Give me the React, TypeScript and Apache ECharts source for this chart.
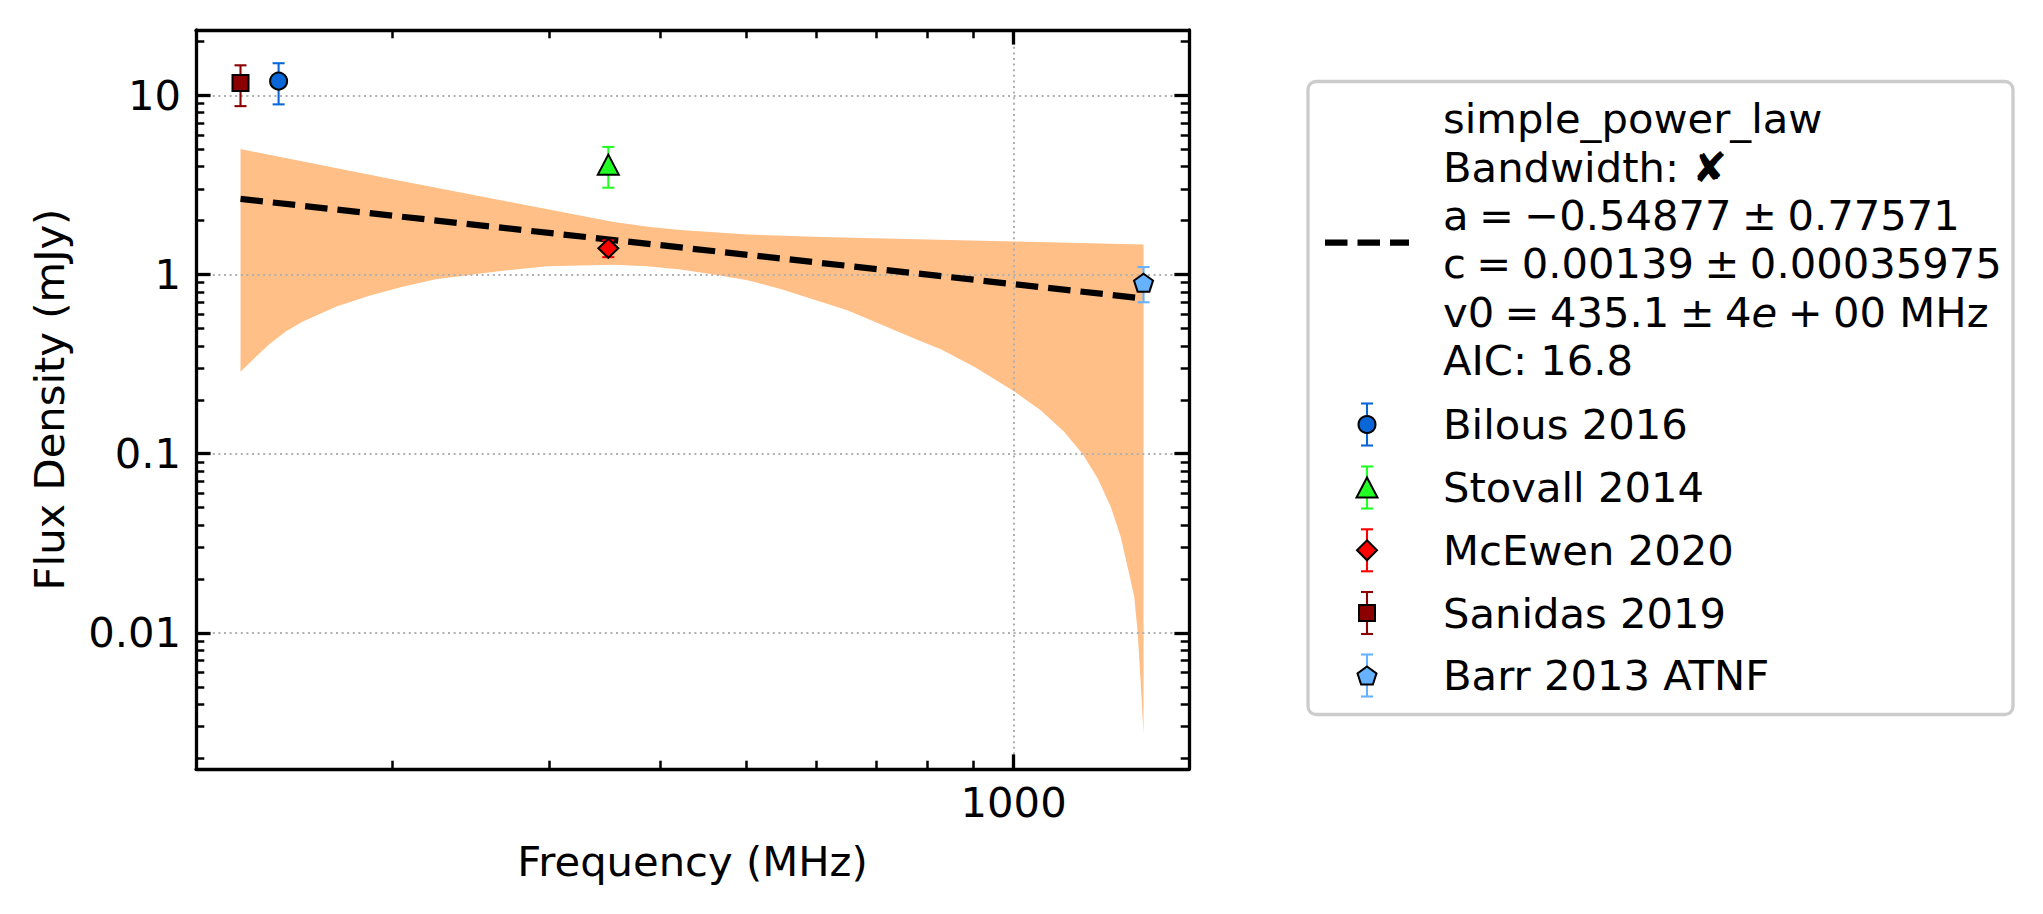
import React, { useEffect, useRef } from "react";
import * as echarts from "echarts";

// ---------- data ----------
const sourceNames = ["Bilous 2016", "Stovall 2014", "McEwen 2020", "Sanidas 2019", "Barr 2013 ATNF"];
const sourceFreq = [149, 350, 350, 135, 1400];
const sourceFlux = [12.0, 4.1, 1.4, 11.7, 0.9];
const sourceErr = [3.1, 1.05, 0.15, 3.0, 0.2];
const sourceColors = ["#0b67d8", "#22ff22", "#ff0000", "#8b0000", "#66b2ff"];

const fitFreq = [135, 1400];
const fitFlux = [2.64, 0.735];

const bandUpperFreq = [135, 200, 275, 355, 390, 422, 502, 607, 1000, 1400];
const bandUpper = [5.01, 3.4, 2.51, 1.96, 1.84, 1.77, 1.67, 1.62, 1.53, 1.47];
const bandLowerFreq = [135, 140.5, 145.4, 151.8, 158.5, 172.8, 188.4, 205.4, 223.9, 244.1, 262, 299, 355, 387, 422, 460, 502, 547, 650, 773, 828, 903, 1000, 1072.5, 1139, 1195, 1243, 1286, 1319.5, 1345, 1367, 1379, 1390, 1400];
const bandLower = [0.287, 0.348, 0.408, 0.48, 0.545, 0.661, 0.762, 0.855, 0.94, 0.994, 1.04, 1.113, 1.132, 1.113, 1.067, 1.0, 0.929, 0.83, 0.632, 0.439, 0.3825, 0.306, 0.224, 0.175, 0.133, 0.1, 0.073, 0.0506, 0.0344, 0.0227, 0.0158, 0.01, 0.0052, 0.00273];

const xTickValues = [1000];
const yTickValues = [0.01, 0.1, 1, 10];
const xMinorTickValues = [200, 300, 400, 500, 600, 700, 800, 900];
const yMinorTickValues = [
  0.002, 0.003, 0.004, 0.005, 0.006, 0.007, 0.008, 0.009,
  0.02, 0.03, 0.04, 0.05, 0.06, 0.07, 0.08, 0.09,
  0.2, 0.3, 0.4, 0.5, 0.6, 0.7, 0.8, 0.9,
  2, 3, 4, 5, 6, 7, 8, 9, 20,
];

const SP = "\u2005";
const legendFitLines = [
  "simple_power_law",
  "Bandwidth: \u2718",
  `a${SP}=${SP}\u22120.54877${SP}\u00b1${SP}0.77571`,
  `c${SP}=${SP}0.00139${SP}\u00b1${SP}0.00035975`,
  `{n|v0${SP}=${SP}435.1${SP}\u00b1${SP}4}{i|e}{n|${SP}+${SP}00 MHz}`,
  "AIC: 16.8",
];

// ---------- styling ----------
const FONT = "DejaVu Sans";
const FS = 41.7;
const X_MIN = 120.3;
const X_MAX = 1575;
const Y_MIN = 0.00174;
const Y_MAX = 23.14;
const GRID = { left: 196, top: 30, width: 993, height: 739 };
const PENTAGON = "path://M0,-10L9.511,-3.09L5.878,8.09L-5.878,8.09L-9.511,-3.09Z";
const sourceSymbols = ["circle", "triangle", "diamond", "rect", PENTAGON];
const sourceSizes: any[] = [[17, 17], [21, 20], [20, 19], [16, 16], [19, 18]];

function majorAxis(dim: "x" | "y", position: string, labels: boolean) {
  const isX = dim === "x";
  const ticks = isX ? xTickValues : yTickValues;
  return {
    type: "log",
    logBase: 10,
    min: isX ? X_MIN : Y_MIN,
    max: isX ? X_MAX : Y_MAX,
    position,
    z: 3,
    axisLine: { show: true, onZero: false, lineStyle: { color: "#000", width: 3.3 } },
    axisTick: { show: true, inside: true, length: 14.6, customValues: ticks, lineStyle: { color: "#000", width: 3.3 } },
    axisLabel: {
      show: labels,
      customValues: ticks,
      formatter: (v: number) => String(v),
      margin: isX ? 12 : 15,
      fontSize: FS,
      fontFamily: FONT,
      color: "#000",
    },
    splitLine: {
      show: labels,
      lineStyle: { color: "#b0b0b0", width: 2, type: [2, 3.6] },
    },
    minorTick: { show: false },
    minorSplitLine: { show: false },
    name: labels ? (isX ? "Frequency (MHz)" : "Flux Density (mJy)") : "",
    nameLocation: "middle",
    nameGap: isX ? 71 : 126,
    nameTextStyle: { fontSize: FS, fontFamily: FONT, color: "#000" },
  };
}

function minorAxis(dim: "x" | "y", position: string) {
  const isX = dim === "x";
  return {
    type: "log",
    logBase: 10,
    min: isX ? X_MIN : Y_MIN,
    max: isX ? X_MAX : Y_MAX,
    position,
    z: 3,
    axisLine: { show: false },
    axisTick: {
      show: true,
      inside: true,
      length: 8.3,
      customValues: isX ? xMinorTickValues : yMinorTickValues,
      lineStyle: { color: "#000", width: 2.5 },
    },
    axisLabel: { show: false },
    splitLine: { show: false },
  };
}

function legendGraphics() {
  const els: any[] = [];
  els.push({
    type: "rect",
    shape: { x: 1308, y: 81.5, width: 705, height: 633, r: 8 },
    style: { fill: "#ffffff", stroke: "#cccccc", lineWidth: 3.3 },
    z: 10,
  });
  const textX = 1443;
  const handleX = 1367;
  const fitYs = [118.8, 167.2, 215.5, 263.8, 312.1, 360.4];
  legendFitLines.forEach((t, i) => {
    els.push({
      type: "text",
      x: textX,
      y: fitYs[i],
      z: 11,
      style: {
        text: t,
        fill: "#000",
        fontSize: FS,
        fontFamily: FONT,
        align: "left",
        verticalAlign: "middle",
        rich: {
          n: { fontSize: FS, fontFamily: FONT, fill: "#000" },
          i: { fontSize: FS, fontFamily: FONT, fontStyle: "italic", fill: "#000" },
        },
      },
    });
  });
  els.push({
    type: "line",
    z: 11,
    shape: { x1: 1325, y1: 242.7, x2: 1409, y2: 242.7 },
    style: { stroke: "#000", lineWidth: 6.25, lineDash: [22.5, 10] },
  });
  const rowYs = [424.5, 487.5, 550.3, 613.0, 675.5];
  sourceNames.forEach((name, i) => {
    const cy = rowYs[i];
    const c = sourceColors[i];
    const bar = { stroke: c, lineWidth: 2.1 };
    els.push({ type: "line", z: 11, shape: { x1: handleX, y1: cy - 21, x2: handleX, y2: cy + 21 }, style: bar });
    els.push({ type: "line", z: 11, shape: { x1: handleX - 6, y1: cy - 21, x2: handleX + 6, y2: cy - 21 }, style: bar });
    els.push({ type: "line", z: 11, shape: { x1: handleX - 6, y1: cy + 21, x2: handleX + 6, y2: cy + 21 }, style: bar });
    const ms = { fill: c, stroke: "#000", lineWidth: 2 };
    if (i === 0) els.push({ type: "circle", z: 12, shape: { cx: handleX, cy, r: 8.5 }, style: ms });
    if (i === 1) els.push({ type: "polygon", z: 12, shape: { points: [[handleX, cy - 10], [handleX + 10.5, cy + 10], [handleX - 10.5, cy + 10]] }, style: ms });
    if (i === 2) els.push({ type: "polygon", z: 12, shape: { points: [[handleX, cy - 10], [handleX + 10, cy], [handleX, cy + 10], [handleX - 10, cy]] }, style: ms });
    if (i === 3) els.push({ type: "rect", z: 12, shape: { x: handleX - 8, y: cy - 8, width: 16, height: 16 }, style: ms });
    if (i === 4) {
      const pts: number[][] = [];
      for (let k = 0; k < 5; k++) {
        const a = -Math.PI / 2 + (k * 2 * Math.PI) / 5;
        pts.push([handleX + 10 * Math.cos(a), cy + 1 + 10 * Math.sin(a)]);
      }
      els.push({ type: "polygon", z: 12, shape: { points: pts }, style: ms });
    }
    els.push({
      type: "text",
      x: textX,
      y: rowYs[i],
      z: 11,
      style: { text: name, fill: "#000", fontSize: FS, fontFamily: FONT, align: "left", verticalAlign: "middle" },
    });
  });
  return els;
}

export default function App() {
  const ref = useRef<HTMLDivElement>(null);
  useEffect(() => {
    if (!ref.current) return;
    const chart = echarts.init(ref.current, null, { renderer: "svg" });
    const series: any[] = [];
    series.push({
      type: "custom",
      name: "band",
      xAxisIndex: 0,
      yAxisIndex: 0,
      z: 1,
      silent: true,
      encode: { x: 0, y: 1 },
      data: [[bandUpperFreq[0], bandUpper[0]]],
      renderItem: (_p: any, api: any) => {
        const pts: number[][] = [];
        for (let i = 0; i < bandUpperFreq.length; i++) pts.push(api.coord([bandUpperFreq[i], bandUpper[i]]));
        for (let i = bandLowerFreq.length - 1; i >= 0; i--) pts.push(api.coord([bandLowerFreq[i], bandLower[i]]));
        return { type: "polygon", shape: { points: pts }, style: { fill: "#ffbf87", stroke: "none" } };
      },
    });
    series.push({
      type: "line",
      name: "fit",
      xAxisIndex: 0,
      yAxisIndex: 0,
      z: 4,
      silent: true,
      symbol: "none",
      data: fitFreq.map((f, i) => [f, fitFlux[i]]),
      lineStyle: { color: "#000", width: 6.25, type: [22.5, 10] },
    });
    series.push({
      type: "custom",
      name: "errors",
      xAxisIndex: 0,
      yAxisIndex: 0,
      z: 5,
      silent: true,
      encode: { x: 0, y: 1 },
      data: sourceNames.map((_, i) => [sourceFreq[i], sourceFlux[i], sourceFlux[i] - sourceErr[i], sourceFlux[i] + sourceErr[i], i]),
      renderItem: (_p: any, api: any) => {
        const x = api.value(0);
        const lo = api.coord([x, api.value(2)]);
        const hi = api.coord([x, api.value(3)]);
        const c = sourceColors[api.value(4)];
        const st = { stroke: c, lineWidth: 2.1 };
        const hw = 6;
        return {
          type: "group",
          children: [
            { type: "line", shape: { x1: lo[0], y1: lo[1], x2: hi[0], y2: hi[1] }, style: st },
            { type: "line", shape: { x1: lo[0] - hw, y1: lo[1], x2: lo[0] + hw, y2: lo[1] }, style: st },
            { type: "line", shape: { x1: hi[0] - hw, y1: hi[1], x2: hi[0] + hw, y2: hi[1] }, style: st },
          ],
        };
      },
    });
    sourceNames.forEach((name, i) => {
      series.push({
        type: "scatter",
        name,
        xAxisIndex: 0,
        yAxisIndex: 0,
        z: 6,
        silent: true,
        symbol: sourceSymbols[i],
        symbolSize: sourceSizes[i],
        symbolKeepAspect: false,
        data: [[sourceFreq[i], sourceFlux[i]]],
        itemStyle: { color: sourceColors[i], borderColor: "#000", borderWidth: 2, opacity: 1 },
      });
    });

    chart.setOption({
      animation: false,
      backgroundColor: "#ffffff",
      textStyle: { fontFamily: FONT },
      grid: { ...GRID, containLabel: false },
      xAxis: [majorAxis("x", "bottom", true), majorAxis("x", "top", false), minorAxis("x", "bottom"), minorAxis("x", "top")],
      yAxis: [majorAxis("y", "left", true), majorAxis("y", "right", false), minorAxis("y", "left"), minorAxis("y", "right")],
      series,
      graphic: legendGraphics(),
    });
    return () => chart.dispose();
  }, []);
  return <div ref={ref} style={{ position: "fixed", left: 0, top: 0, width: 2043, height: 914, background: "#fff" }} />;
}
